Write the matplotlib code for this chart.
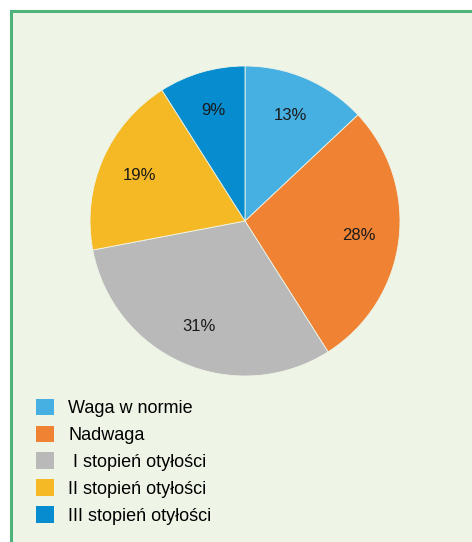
import matplotlib
matplotlib.use("Agg")
import matplotlib.pyplot as plt
from matplotlib.patches import Rectangle, Patch
from matplotlib.lines import Line2D

plt.rcParams['font.family'] = ['Liberation Sans', 'DejaVu Sans']

categories = ['Waga w normie', 'Nadwaga', ' I stopień otyłości',
              'II stopień otyłości', 'III stopień otyłości']
shares = [13, 28, 31, 19, 9]
colors = ['#47b0e2', '#ef8233', '#b9b9b9', '#f6b926', '#068ccf']

W, H = 472, 542
fig = plt.figure(figsize=(W / 100, H / 100), dpi=100)
fig.patch.set_facecolor('white')

# green panel with border on top and left
fig.patches.append(Rectangle((11 / W, 0), 1, 1 - 11 / H, transform=fig.transFigure,
                             facecolor='#eef5e7', edgecolor='none', zorder=-5))
fig.add_artist(Line2D([11 / W, 11 / W], [0, 1 - 11 / H], transform=fig.transFigure,
                      color='#4db37a', lw=2.2, zorder=-4))
fig.add_artist(Line2D([11 / W, 1], [1 - 11 / H, 1 - 11 / H], transform=fig.transFigure,
                      color='#4db37a', lw=2.2, zorder=-4))

cx, cy, r = 245, 221, 155
ax = fig.add_axes([(cx - r) / W, 1 - (cy + r) / H, 2 * r / W, 2 * r / H])
ax.set_facecolor('none')
wedges, texts, autotexts = ax.pie(shares, colors=colors, startangle=90, counterclock=False,
                                  autopct='%d%%', pctdistance=0.74,
                                  wedgeprops=dict(edgecolor='#eef5e7', linewidth=0.6),
                                  textprops=dict(fontsize=12, color='#1a1a1a'))
ax.set_xlim(-1, 1)
ax.set_ylim(-1, 1)
ax.set_aspect('equal')
ax.axis('off')

handles = [Patch(facecolor=c, edgecolor='none') for c in colors]
fig.legend(handles, categories, loc='upper left', bbox_to_anchor=(23 / W, 1 - 386 / H),
           frameon=False, fontsize=13, handlelength=1.0, handleheight=1.0,
           handletextpad=0.8, labelspacing=0.48, borderpad=0.2)

fig.savefig('out.png', dpi=100)
